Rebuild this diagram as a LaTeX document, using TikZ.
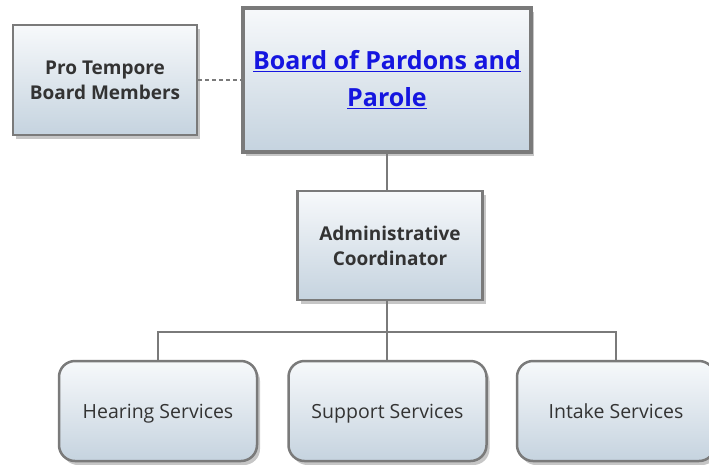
\documentclass[tikz,border=0pt]{standalone}
\usepackage{fontspec}
\setmainfont{Open Sans}
\usetikzlibrary{positioning,shadows}

\definecolor{boxline}{HTML}{7A7A7A}
\definecolor{boxtop}{HTML}{F7F9FB}
\definecolor{boxbot}{HTML}{C5D3DF}
\definecolor{linkblue}{HTML}{1515E0}
\definecolor{textgray}{HTML}{333333}

\tikzset{
  unit/.style={draw=boxline, line width=2.5pt, top color=boxtop, bottom color=boxbot,
    drop shadow={opacity=0.45, shadow xshift=3pt, shadow yshift=-4pt},
    align=center, inner sep=0pt, text=textgray, font=\bfseries\fontsize{19}{25}\selectfont},
  service/.style={unit, rounded corners=16pt, minimum width=198pt, minimum height=100pt,
    text depth=0pt, font=\fontsize{19.5}{24}\selectfont},
  link/.style={draw=boxline, line width=1.3pt}
}

\begin{document}
\begin{tikzpicture}[x=1pt,y=-1pt]
    \useasboundingbox (0,0) rectangle (709,464);
    \node[unit, line width=3.5pt, minimum width=288pt, minimum height=144pt, text=linkblue,
          font=\bfseries\fontsize{25}{37}\selectfont]
          (board) at (387,80) {\underline{Board of Pardons and}\\\underline{Parole}};
    \node[unit, minimum width=184pt, minimum height=110pt] (protem) at (105,80) {Pro Tempore\\Board Members};
    \node[unit, minimum width=185pt, minimum height=109pt] (admin) at (390,245.5) {Administrative\\Coordinator};
    \node[service] (hearing) at (158,411) {Hearing Services};
    \node[service] (support) [right=29pt of hearing] {Support Services};
    \node[service] (intake)  [right=28pt of support] {Intake Services};
    \coordinate (fork) at (387,332);

    \path[link] (protem) edge[dash pattern=on 4pt off 3pt] (board)
                (board.south) edge (board.south |- admin.north)
                (board.south |- admin.south) edge (fork);
    \draw[link] (hearing.north) |- (fork) -| (intake.north);
    \draw[link] (fork) -- (fork |- support.north);
\end{tikzpicture}
\end{document}
